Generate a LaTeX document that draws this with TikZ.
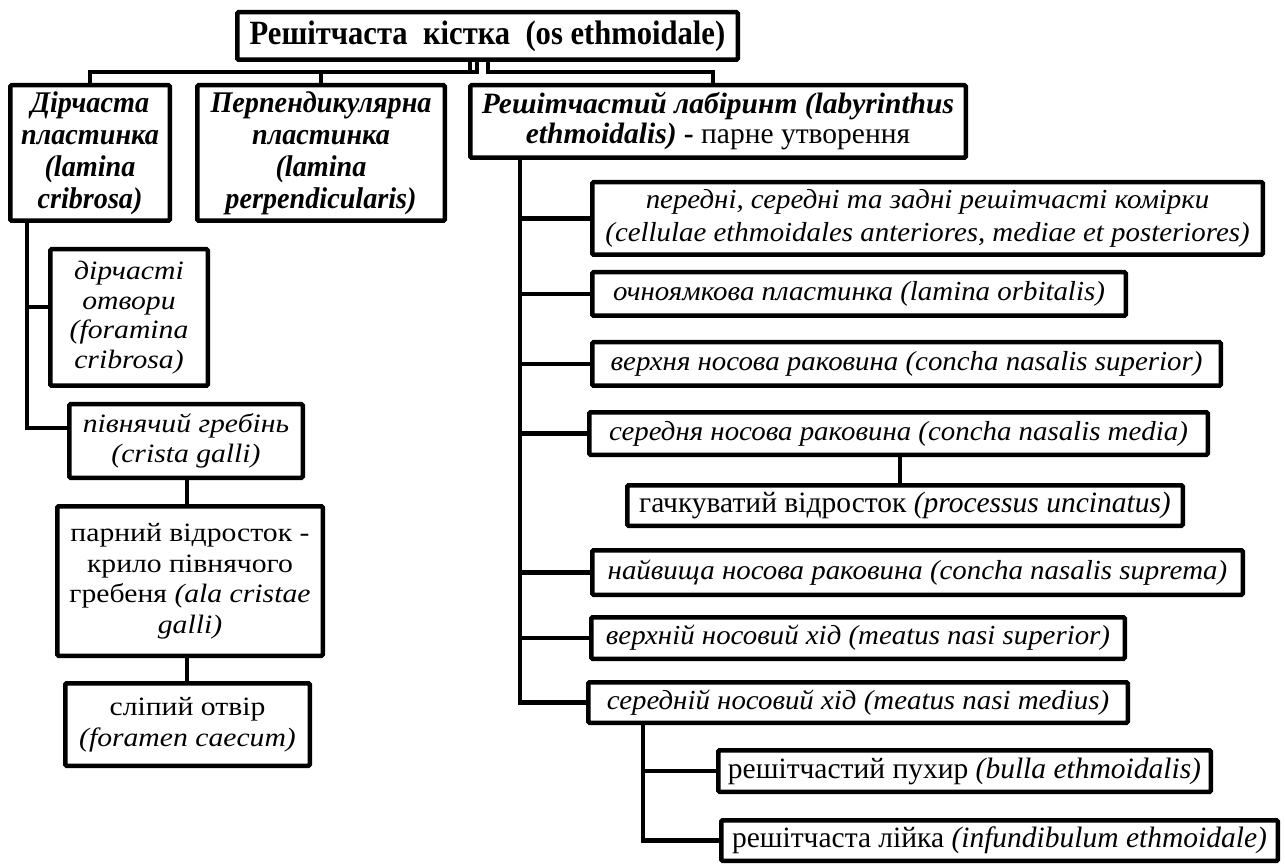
\documentclass[tikz,border=0pt]{standalone}
\usepackage{fontspec}
\setmainfont{Liberation Serif}
\newfontfamily\wideserif[FakeStretch=1.12]{Liberation Serif}
\newfontfamily\itemserif[FakeStretch=1.05]{Liberation Serif}
\newfontfamily\narrowserif[FakeStretch=0.9]{Liberation Serif}
\newfontfamily\headserif[FakeStretch=0.94]{Liberation Serif}
\usetikzlibrary{calc}

% box placed by its outer corners (x1,y1) and (x2,y2)
\newcommand\boxat[7][]{%
  \node[box, #1, minimum width={(#5-#3-4.5)*1pt}, minimum height={(#6-#4-4.5)*1pt}]
    (#2) at ({(#3+#5)/2},{(#4+#6)/2}) {#7};}

\tikzset{
  box/.style={draw, line width=4.5pt, rounded corners=1.2pt, inner sep=0pt,
    align=center, fill=white},
  link/.style={line width=4.5pt},
  topfont/.style={font=\narrowserif\fontsize{34}{38}\selectfont\bfseries},
  headfont/.style={font=\headserif\fontsize{30}{32}\selectfont\bfseries\itshape},
  labfont/.style={font=\fontsize{29.5}{30}\selectfont},
  itemfont/.style={font=\itemserif\fontsize{27.5}{33}\selectfont\itshape},
  leftfont/.style={font=\wideserif\fontsize{26.5}{29.5}\selectfont\itshape},
  plainfont/.style={font=\fontsize{29.5}{30}\selectfont},
  widefont/.style={font=\wideserif\fontsize{26.5}{30.5}\selectfont},
}

\begin{document}
\begin{tikzpicture}[x=1pt, y=-1pt]
\fill[white] (0,0) rectangle (1285,866);
\useasboundingbox (0,0) rectangle (1285,866);

% root and first level
\boxat[topfont]{root}{235}{10}{740}{62}{Решітчаста\ \ кістка\ \ (os ethmoidale)}
\boxat[headfont]{dir}{8}{83}{172}{223}{Дірчаста\\пластинка\\(lamina\\cribrosa)}
\boxat[headfont]{perp}{195}{83}{447}{223}{Перпендикулярна\\пластинка\\(lamina\\perpendicularis)}
\boxat[labfont]{lab}{468}{83}{968}{160}{\textbf{\textit{Решітчастий лабіринт (labyrinthus}}\\\textbf{\textit{ethmoidalis)}} \textbf{-} парне утворення}

% cribriform plate branch
\boxat[leftfont]{holes}{48}{247}{210}{388}{дірчасті\\отвори\\(foramina\\cribrosa)}
\boxat[leftfont]{crista}{67}{402}{305}{480}{півнячий гребінь\\(crista galli)}
\boxat[widefont]{ala}{55}{504}{325}{658}{парний відросток -\\крило півнячого\\гребеня \textit{(ala cristae}\\\textit{galli)}}
\boxat[widefont]{caecum}{63}{681}{312}{768}{сліпий отвір\\\textit{(foramen caecum)}}

% labyrinth branch
\boxat[itemfont]{cells}{590}{180}{1265}{257}{передні, середні та задні решітчасті комірки\\(cellulae ethmoidales anteriores, mediae et posteriores)}
\boxat[itemfont]{orbit}{590}{270}{1128}{318}{очноямкова пластинка (lamina orbitalis)}
\boxat[itemfont]{csup}{590}{340}{1223}{388}{верхня носова раковина (concha nasalis superior)}
\boxat[itemfont]{cmed}{587}{410}{1210}{457}{середня носова раковина (concha nasalis media)}
\boxat[plainfont]{uncin}{625}{483}{1185}{528}{гачкуватий відросток \textit{(processus uncinatus)}}
\boxat[itemfont]{csupr}{590}{548}{1245}{597}{найвища носова раковина (concha nasalis suprema)}
\boxat[itemfont]{msup}{589}{615}{1127}{661}{верхній носовий хід (meatus nasi superior)}
\boxat[itemfont]{mmed}{586}{680}{1130}{725}{середній носовий хід (meatus nasi medius)}
\boxat[plainfont]{bulla}{716}{748}{1213}{794}{решітчастий пухир \textit{(bulla ethmoidalis)}}
\boxat[plainfont]{infund}{719}{818}{1280}{863}{решітчаста лійка \textit{(infundibulum ethmoidale)}}

% connectors from the root
\draw[link] (root.south -| 470,0) |- (dir.north |- 0,72) -- (dir.north);
\draw[link] (root.south -| 477,0) |- (perp.north |- 0,72) -- (perp.north);
\draw[link] (root.south -| 488,0) |- (713,72) -- (lab.north -| 713,0);

% left trunk
\draw[link] (dir.south -| 27,0) |- (holes.west |- 0,307);
\draw[link] (dir.south -| 27,0) |- (crista.west |- 0,428);
\draw[link] (crista.south -| 187,0) -- (ala.north -| 187,0);
\draw[link] (ala.south -| 187,0) -- (caecum.north -| 187,0);

% right trunk
\coordinate (rt) at (lab.south -| 520,0);
\foreach \n in {cells,orbit,csup,cmed,csupr,msup,mmed}
  \draw[link] (rt) |- (\n.west);
\draw[link] (cmed.south -| 900,0) -- (uncin.north -| 900,0);
\coordinate (st) at (mmed.south -| 643,0);
\draw[link] (st) |- (bulla.west);
\draw[link] (st) |- (infund.west);
\end{tikzpicture}
\end{document}
